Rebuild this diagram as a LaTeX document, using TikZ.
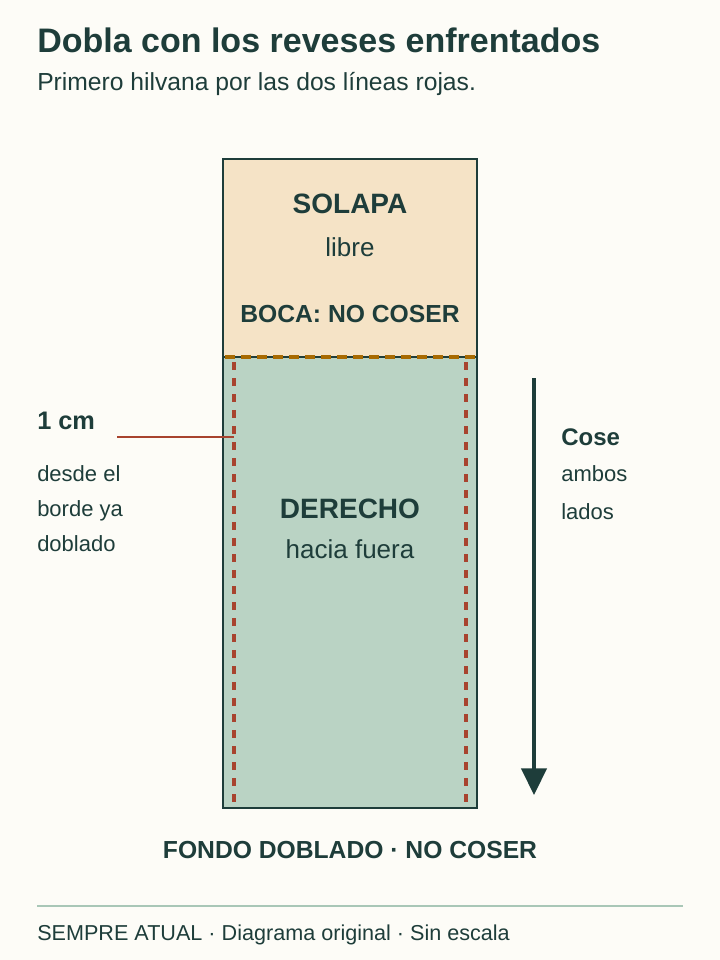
\documentclass[tikz,border=0pt]{standalone}
\usepackage{fontspec}
\setmainfont{Liberation Sans}
\usetikzlibrary{arrows.meta}
\definecolor{ink}{HTML}{1E3D3A}
\definecolor{paper}{HTML}{FDFCF7}
\definecolor{flap}{HTML}{F5E3C6}
\definecolor{body}{HTML}{BAD3C4}
\definecolor{stitch}{HTML}{A8432E}
\definecolor{fold}{HTML}{A86A00}
\definecolor{rule}{HTML}{A9C7B7}
\tikzset{
	 lbl/.style = {text = ink, inner sep = 0pt},
	 stitchline/.style = {stitch, line width = 3pt, dash pattern = on 6pt off 6pt},
}
\begin{document}
\begin{tikzpicture}[x = 0.75pt, y = -0.75pt]
	 \fill[paper] (0, 0) rectangle (720, 960);
	 \useasboundingbox (0, 0) rectangle (720, 960);
	 
	 \node[lbl, anchor = base west, font = \bfseries\fontsize{25.5}{28}\selectfont] (title) at (37, 52) {Dobla con los reveses enfrentados};
	 \node[lbl, anchor = base west, font = \fontsize{18.5}{20}\selectfont] (sub) at (37, 90) {Primero hilvana por las dos líneas rojas.};
	 
	 \filldraw[fill = flap, draw = ink, line width = 2.2pt] (223, 159) rectangle (477, 357);
	 \filldraw[fill = body, draw = ink, line width = 2.2pt] (223, 357) rectangle (477, 808);
	 
	 \draw[fold, line width = 3pt, dash pattern = on 7.5pt off 4.5pt] (225, 357) -- (477, 357);
	 \draw[stitchline] (234, 362) -- (234, 806);
	 \draw[stitchline] (466, 362) -- (466, 806);
	 
	 \node[lbl, font = \bfseries\fontsize{21}{24}\selectfont] (solapa) at (350, 204) {SOLAPA};
	 \node[lbl, font = \fontsize{19.5}{22}\selectfont] (libre) at (350, 247) {libre};
	 \node[lbl, font = \bfseries\fontsize{18.5}{20}\selectfont] (boca) at (350, 314) {BOCA: NO COSER};
	 \node[lbl, font = \bfseries\fontsize{21}{24}\selectfont] (derecho) at (350, 509) {DERECHO};
	 \node[lbl, font = \fontsize{19.5}{22}\selectfont] (hacia) at (350, 549) {hacia fuera};
	 
	 \node[lbl, anchor = base west, font = \bfseries\fontsize{19}{22}\selectfont] (cm) at (37, 429) {1 cm};
	 \coordinate (lineL) at (117, 437);
	 \coordinate (lineR) at (234, 437);
	 \draw[stitch, line width = 2.2pt] (lineL) -- (lineR);
	 \node[lbl, anchor = north west, align = left, font = \fontsize{16.5}{26.3}\selectfont] (desde) at (37, 465) {desde el\\borde ya\\doblado};
	 
	 \coordinate (arrTop) at (534, 378);
	 \coordinate (arrBot) at (534, 795);
	 \draw[ink, line width = 2.6pt, -{Triangle[length = 20pt, width = 19pt]}] (arrTop) -- (arrBot);
	 \node[lbl, anchor = base west, font = \bfseries\fontsize{18}{20}\selectfont] (cose) at (561, 445) {Cose};
	 \node[lbl, anchor = north west, align = left, font = \fontsize{16.5}{28.5}\selectfont] (ambos) at (561, 465) {ambos\\lados};
	 
	 \node[lbl, font = \bfseries\fontsize{18.5}{20}\selectfont] (fondo) at (350, 850) {FONDO DOBLADO · NO COSER};
	 
	 \draw[rule, line width = 2.2pt] (37, 906) -- (683, 906);
	 \node[lbl, anchor = base west, font = \fontsize{16.2}{18}\selectfont] (foot) at (37, 940) {SEMPRE ATUAL · Diagrama original · Sin escala};
\end{tikzpicture}
\end{document}
